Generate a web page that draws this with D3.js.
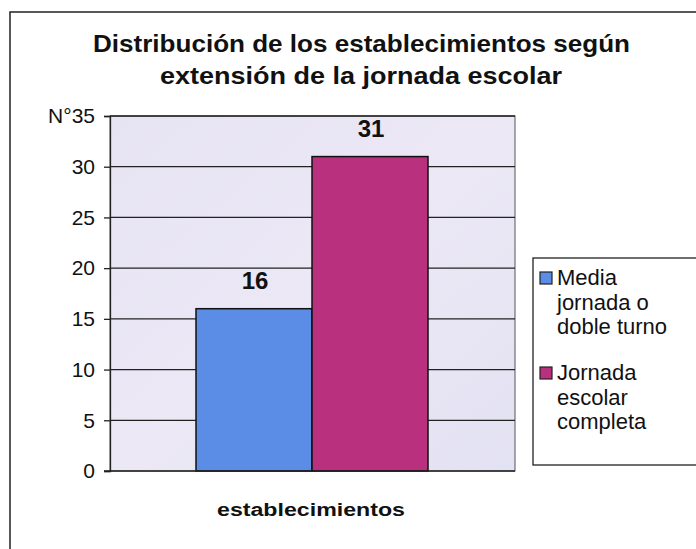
<!DOCTYPE html>
<html>
<head>
<meta charset="utf-8">
<script src="https://cdn.jsdelivr.net/npm/d3@7"></script>
<style>
  body { margin: 0; background: #fff; }
  text { font-family: "Liberation Sans", Arial, sans-serif; }
</style>
</head>
<body>
<div id="chart"></div>
<script>
// data
var categories = ["establecimientos"];
var seriesNames = [["Media", "jornada o", "doble turno"], ["Jornada", "escolar", "completa"]];
var seriesValues = [16, 31];
var seriesColors = ["#5b8ce6", "#b9307f"];
var yTicks = [0, 5, 10, 15, 20, 25, 30, 35];
var titleLines = ["Distribución de los establecimientos según", "extensión de la jornada escolar"];

var W = 696, H = 549;
var svg = d3.select("#chart").append("svg")
    .attr("width", W)
    .attr("height", H);

// outer frame
svg.append("rect")
    .attr("x", 10).attr("y", 12)
    .attr("width", 700).attr("height", 560)
    .attr("fill", "#fff")
    .attr("stroke", "#222").attr("stroke-width", 1.5);

var plot = {left: 110, right: 515, top: 116, bottom: 471};

var defs = svg.append("defs");
var grad = defs.append("linearGradient").attr("id", "bg")
    .attr("x1", 0).attr("y1", 0).attr("x2", 1).attr("y2", 1);
grad.append("stop").attr("offset", "0%").attr("stop-color", "#e6e3f3");
grad.append("stop").attr("offset", "50%").attr("stop-color", "#ece8f6");
grad.append("stop").attr("offset", "100%").attr("stop-color", "#e3e2f2");

svg.append("rect")
    .attr("x", plot.left).attr("y", plot.top)
    .attr("width", plot.right - plot.left)
    .attr("height", plot.bottom - plot.top)
    .attr("fill", "url(#bg)")
    .attr("stroke", "#555").attr("stroke-width", 1);

var y = d3.scaleLinear().domain([0, 35]).range([plot.bottom, plot.top]);
var x = d3.scaleBand().domain(categories).range([plot.left, plot.right]);
var xs = d3.scaleBand().domain(d3.range(seriesValues.length))
    .range([x(categories[0]) + 86, x(categories[0]) + x.bandwidth() - 87]);

// gridlines
svg.append("g").selectAll("line")
    .data(yTicks.filter(function(d){ return d > 0; }))
    .enter().append("line")
    .attr("x1", plot.left).attr("x2", plot.right)
    .attr("y1", function(d){ return y(d); })
    .attr("y2", function(d){ return y(d); })
    .attr("stroke", "#222").attr("stroke-width", 1.3);

// y axis
var yAxis = d3.axisLeft(y).tickValues(yTicks).tickSize(6).tickPadding(9)
    .tickFormat(function(d){ return d === 35 ? "N°35" : d; });
var ga = svg.append("g").attr("transform", "translate(" + plot.left + ",0)").call(yAxis);
ga.select(".domain").attr("stroke", "#222").attr("stroke-width", 1.3);
ga.selectAll(".tick line").attr("stroke", "#222").attr("stroke-width", 1.3);
ga.selectAll(".tick text")
    .attr("font-size", 21)
    .attr("fill", "#111")
    .style("font-family", "Liberation Sans, Arial, sans-serif");

// bars
svg.append("g").selectAll("rect")
    .data(seriesValues)
    .enter().append("rect")
    .attr("x", function(d, i){ return xs(i); })
    .attr("y", function(d){ return y(d); })
    .attr("width", xs.bandwidth())
    .attr("height", function(d){ return plot.bottom - y(d); })
    .attr("fill", function(d, i){ return seriesColors[i]; })
    .attr("stroke", "#111").attr("stroke-width", 1.5);

// bottom axis line
svg.append("line")
    .attr("x1", plot.left - 6).attr("x2", plot.right)
    .attr("y1", plot.bottom).attr("y2", plot.bottom)
    .attr("stroke", "#222").attr("stroke-width", 1.5);

// value labels
svg.append("g").selectAll("text")
    .data(seriesValues)
    .enter().append("text")
    .attr("x", function(d, i){ return xs(i) + xs.bandwidth() / 2 + 1; })
    .attr("y", function(d){ return y(d) - 20; })
    .attr("text-anchor", "middle")
    .attr("font-size", 24).attr("font-weight", "bold").attr("fill", "#111")
    .text(function(d){ return d; });

// category label
svg.append("text")
    .attr("x", 217)
    .attr("y", 516)
    .attr("font-size", 18).attr("font-weight", "bold").attr("fill", "#111")
    .attr("textLength", 188).attr("lengthAdjust", "spacingAndGlyphs")
    .text(categories[0]);

// title
var titleX = [93, 160], titleW = [537, 402];
svg.append("g").selectAll("text")
    .data(titleLines)
    .enter().append("text")
    .attr("x", function(d, i){ return titleX[i]; })
    .attr("y", function(d, i){ return 52 + i * 32; })
    .attr("font-size", 24).attr("font-weight", "bold").attr("fill", "#111")
    .attr("textLength", function(d, i){ return titleW[i]; })
    .attr("lengthAdjust", "spacingAndGlyphs")
    .text(function(d){ return d; });

// legend
svg.append("rect")
    .attr("x", 533).attr("y", 258)
    .attr("width", 200).attr("height", 207)
    .attr("fill", "#fff")
    .attr("stroke", "#222").attr("stroke-width", 1.3);

var lg = svg.append("g").selectAll("g")
    .data(seriesNames)
    .enter().append("g")
    .attr("transform", function(d, i){ return "translate(540," + (285 + i * 95) + ")"; });
lg.append("rect")
    .attr("x", 0).attr("y", -13)
    .attr("width", 12).attr("height", 12)
    .attr("fill", function(d, i){ return seriesColors[i]; })
    .attr("stroke", "#222").attr("stroke-width", 1.2);
lg.selectAll("text")
    .data(function(d){ return d; })
    .enter().append("text")
    .attr("x", 17)
    .attr("y", function(d, j){ return j * 24.5; })
    .attr("font-size", 22).attr("fill", "#111")
    .text(function(d){ return d; });
</script>
</body>
</html>
